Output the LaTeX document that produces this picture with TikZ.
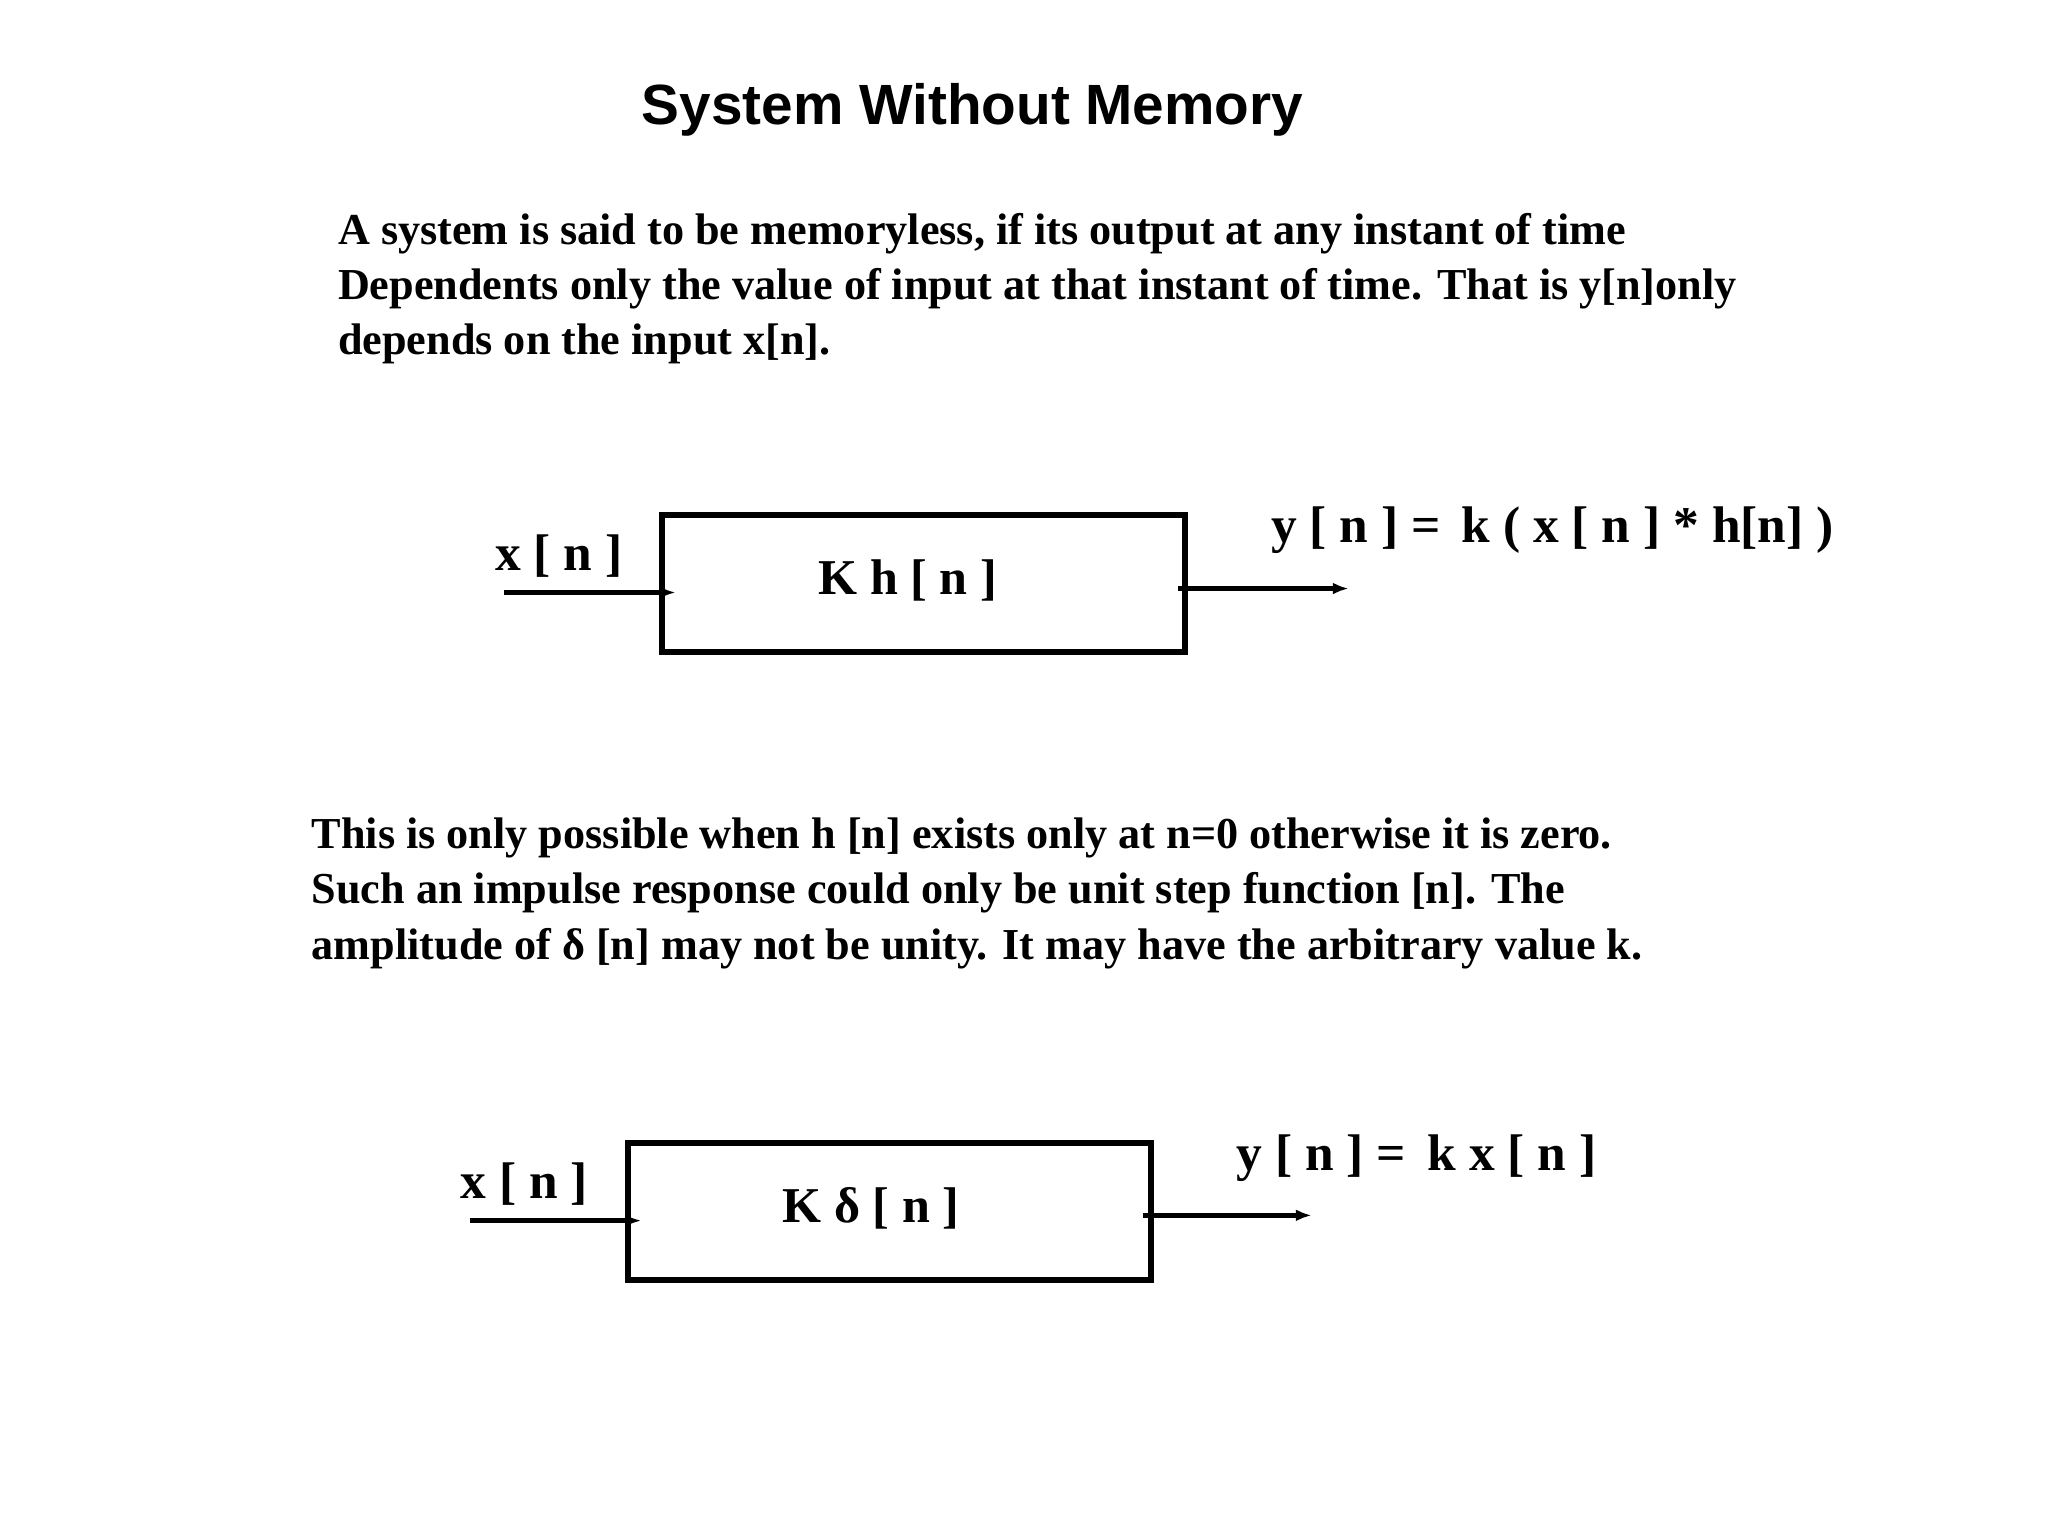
\documentclass[tikz,border=0pt]{standalone}
\usepackage{fontspec}
\setmainfont{Liberation Serif}
\newfontfamily\titlefont{Liberation Sans}
\usetikzlibrary{arrows.meta}
\tikzset{
 para/.style={anchor=base west,font=\bfseries\fontsize{33.5}{42}\selectfont,inner sep=0},
 lab/.style={anchor=base west,font=\bfseries\fontsize{39}{42}\selectfont,inner sep=0},
 sysbox/.style={draw,line width=4.5pt},
 sig/.style={line width=4pt,-{Latex[length=12pt,width=9pt]}}
}
\begin{document}
\begin{tikzpicture}[x=1pt,y=-1pt]
\useasboundingbox (0,0) rectangle (1552,1164);
\node[anchor=base,font=\titlefont\bfseries\fontsize{43}{46}\selectfont,inner sep=0] (title) at (737,94) {System Without Memory};
\node[para] (p1) at (256,185) {A system is said to be memoryless, if its output at any instant of time};
\node[para] (p2) at (256,227) {Dependents only the value of input at that instant of time. That is y[n]only};
\node[para] (p3) at (256,269) {depends on the input x[n].};
\node[para] (q1) at (236,643) {This is only possible when h [n] exists only at n=0 otherwise it is zero.};
\node[para] (q2) at (236,685) {Such an impulse response could only be unit step function [n]. The};
\node[para] (q3) at (236,727) {amplitude of δ [n] may not be unity. It may have the arbitrary value k.};
% system 1
\draw[sysbox] (502,390) rectangle (898,494);
\node[anchor=center,font=\bfseries\fontsize{38}{40}\selectfont] (b1) at (688,440) {K h [ n ]};
\node[lab] (x1) at (375,432) {x [ n ]};
\node[lab] (y1) at (963,411) {y [ n ] =\, k ( x [ n ] * h[n] )};
\coordinate (a1s) at (382,449); \coordinate (a1e) at (512,449);
\coordinate (o1s) at (893,446); \coordinate (o1e) at (1022,446);
\draw[sig] (a1s) -- (a1e);
\draw[sig] (o1s) -- (o1e);
% system 2
\draw[sysbox] (476,866) rectangle (872,970);
\node[anchor=center,font=\bfseries\fontsize{38}{40}\selectfont] (b2) at (660,916) {K δ [ n ]};
\node[lab] (x2) at (349,908) {x [ n ]};
\node[lab] (y2) at (937,887) {y [ n ] =\, k x [ n ]};
\coordinate (a2s) at (356,925); \coordinate (a2e) at (486,925);
\coordinate (o2s) at (866,921); \coordinate (o2e) at (994,921);
\draw[sig] (a2s) -- (a2e);
\draw[sig] (o2s) -- (o2e);
\end{tikzpicture}
\end{document}
